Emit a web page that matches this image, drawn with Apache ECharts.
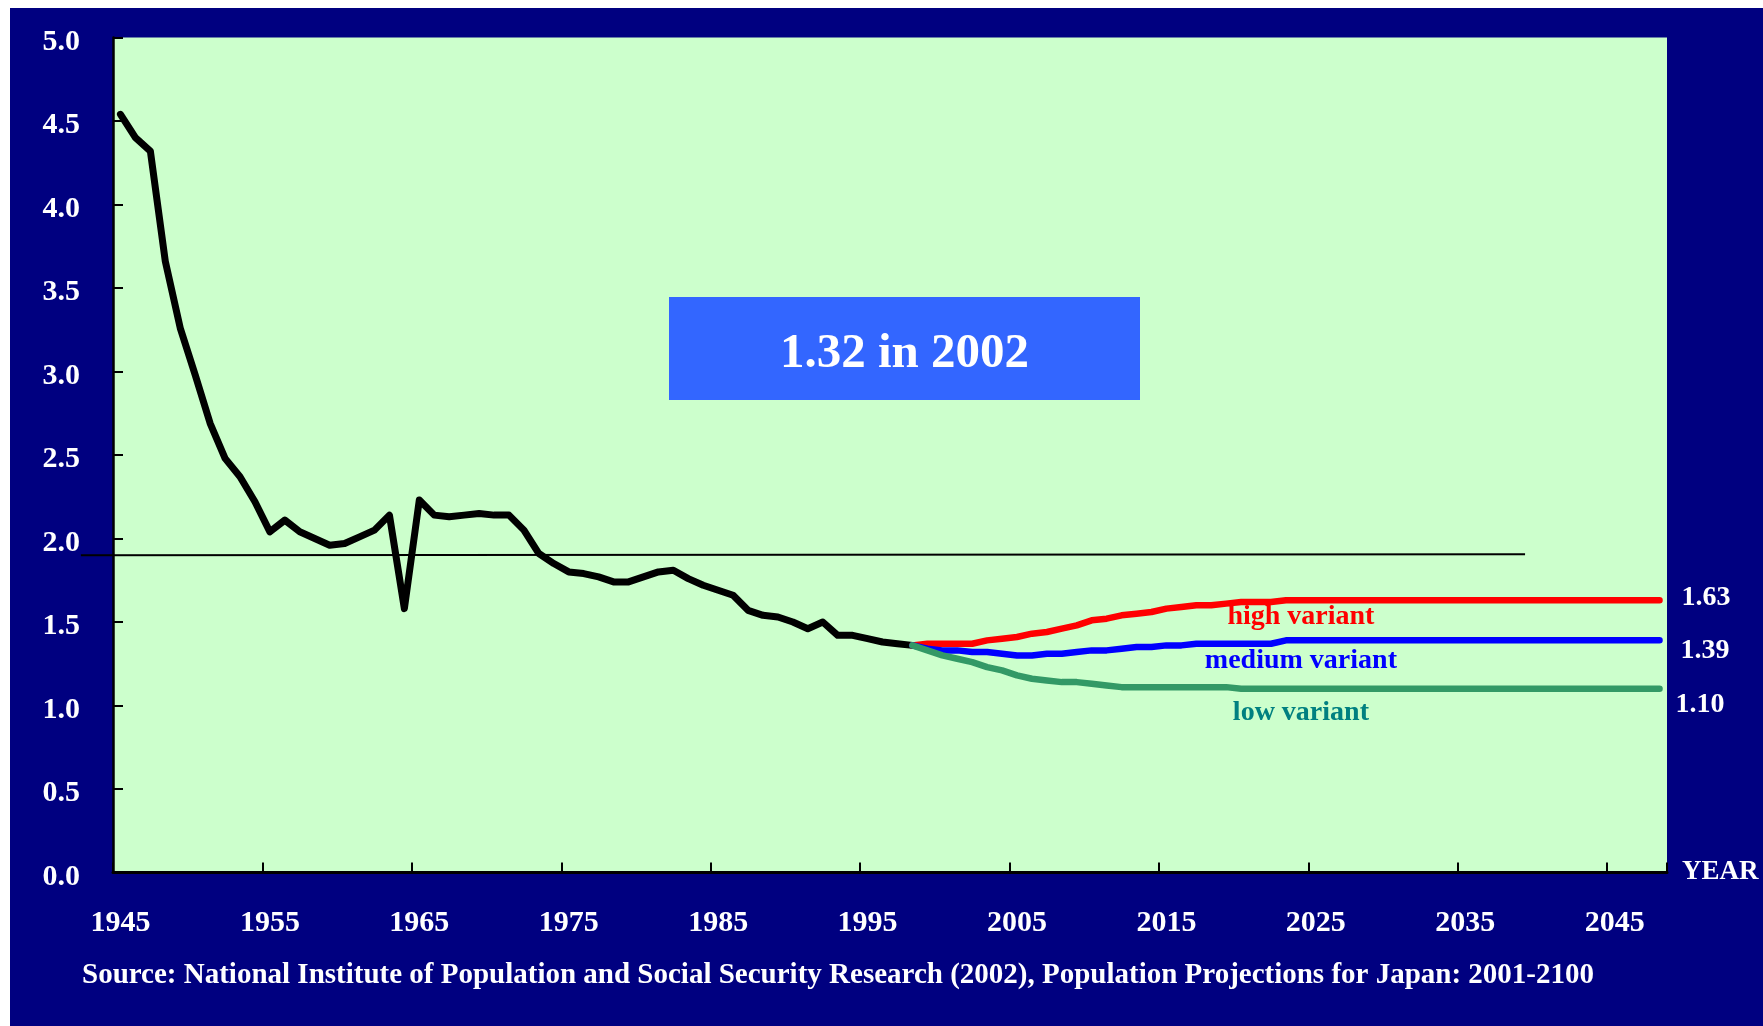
<!DOCTYPE html>
<html>
<head>
<meta charset="utf-8">
<script src="https://cdn.jsdelivr.net/npm/echarts@6/dist/echarts.min.js"></script>
<style>
  html, body { margin: 0; padding: 0; background: #ffffff; }
  #chart { position: absolute; left: 10px; top: 8px; width: 1753px; height: 1018px; }
</style>
</head>
<body>
<div id="chart"></div>
<script>
// Axis categories as labelled in the chart (one per year band)
const categories = Array.from({ length: 104 }, (_, i) => String(1945 + i));
const tickLabels = ['1945', '1955', '1965', '1975', '1985', '1995', '2005', '2015', '2025', '2035', '2045'];

// Total fertility rate, observed (bands 0..53)
const historical = [
  4.54, 4.40, 4.32, 3.66, 3.26, 2.98, 2.69, 2.48, 2.37, 2.22,
  2.04, 2.11, 2.04, 2.00, 1.96, 1.97, 2.01, 2.05, 2.14, 1.58,
  2.23, 2.14, 2.13, 2.14, 2.15, 2.14, 2.14, 2.05, 1.91, 1.85,
  1.80, 1.79, 1.77, 1.74, 1.74, 1.77, 1.80, 1.81, 1.76, 1.72,
  1.69, 1.66, 1.57, 1.54, 1.53, 1.50, 1.46, 1.50, 1.42, 1.42,
  1.40, 1.38, 1.37, 1.36
];
const projectionStart = 53;
// Projections (bands 53..103)
const highVariant = [
  1.36, 1.37, 1.37, 1.37, 1.37, 1.39, 1.40, 1.41, 1.43, 1.44,
  1.46, 1.48, 1.51, 1.52, 1.54, 1.55, 1.56, 1.58, 1.59, 1.60,
  1.60, 1.61, 1.62, 1.62, 1.62, 1.63, 1.63, 1.63, 1.63, 1.63,
  1.63, 1.63, 1.63, 1.63, 1.63, 1.63, 1.63, 1.63, 1.63, 1.63,
  1.63, 1.63, 1.63, 1.63, 1.63, 1.63, 1.63, 1.63, 1.63, 1.63,
  1.63
];
const mediumVariant = [
  1.36, 1.34, 1.33, 1.33, 1.32, 1.32, 1.31, 1.30, 1.30, 1.31,
  1.31, 1.32, 1.33, 1.33, 1.34, 1.35, 1.35, 1.36, 1.36, 1.37,
  1.37, 1.37, 1.37, 1.37, 1.37, 1.39, 1.39, 1.39, 1.39, 1.39,
  1.39, 1.39, 1.39, 1.39, 1.39, 1.39, 1.39, 1.39, 1.39, 1.39,
  1.39, 1.39, 1.39, 1.39, 1.39, 1.39, 1.39, 1.39, 1.39, 1.39,
  1.39
];
const lowVariant = [
  1.36, 1.33, 1.30, 1.28, 1.26, 1.23, 1.21, 1.18, 1.16, 1.15,
  1.14, 1.14, 1.13, 1.12, 1.11, 1.11, 1.11, 1.11, 1.11, 1.11,
  1.11, 1.11, 1.10, 1.10, 1.10, 1.10, 1.10, 1.10, 1.10, 1.10,
  1.10, 1.10, 1.10, 1.10, 1.10, 1.10, 1.10, 1.10, 1.10, 1.10,
  1.10, 1.10, 1.10, 1.10, 1.10, 1.10, 1.10, 1.10, 1.10, 1.10,
  1.10
];
// Reference line (axis years, value)
const refLineYears = [1942.85, 2039.5];
const refLineValues = [1.90, 1.905];

const FONT = "'Liberation Serif', 'Times New Roman', serif";
const pad = arr => new Array(projectionStart).fill(null).concat(arr);
const showTick = (idx, val) => tickLabels.indexOf(val) >= 0;

function projSeries(name, data, color, lbl, lblCoord, lblColor, endOffset) {
  return {
    name, type: 'line', data: pad(data), symbol: 'none', z: 4,
    lineStyle: { color, width: 6.5, cap: 'round', join: 'round' },
    endLabel: {
      show: true, formatter: p => Number(p.value).toFixed(2),
      color: '#ffffff', fontFamily: FONT, fontWeight: 'bold', fontSize: 28,
      distance: 0, offset: endOffset
    },
    markPoint: {
      symbol: 'circle', symbolSize: 1, silent: true,
      itemStyle: { color: 'rgba(0,0,0,0)' },
      label: {
        show: true, position: 'inside', formatter: lbl, color: lblColor,
        fontFamily: FONT, fontWeight: 'bold', fontSize: 28
      },
      data: [{ coord: lblCoord }]
    }
  };
}

const chart = echarts.init(document.getElementById('chart'));
chart.setOption({
  backgroundColor: '#000080',
  animation: false,
  grid: { left: 103, top: 29.5, width: 1554, height: 835, show: true, backgroundColor: '#CCFFCC', borderWidth: 0 },
  xAxis: [{
    type: 'category', data: categories, boundaryGap: true,
    axisLine: { lineStyle: { color: '#000000', width: 3 } },
    axisTick: { show: true, inside: true, length: 10, interval: showTick, lineStyle: { color: '#000000', width: 2 } },
    axisLabel: { interval: showTick, color: '#ffffff', fontFamily: FONT, fontWeight: 'bold', fontSize: 30, margin: 36 },
    splitLine: { show: false },
    name: 'YEAR', nameLocation: 'end', nameGap: 15,
    nameTextStyle: { color: '#ffffff', fontFamily: FONT, fontWeight: 'bold', fontSize: 27, align: 'left', verticalAlign: 'middle' }
  }, {
    type: 'value', min: 1945, max: 2049, show: false
  }],
  yAxis: {
    type: 'value', min: 0, max: 5, interval: 0.5,
    axisLine: { show: true, lineStyle: { color: '#000000', width: 2.5 } },
    axisTick: { show: true, inside: true, length: 10, lineStyle: { color: '#000000', width: 2 } },
    axisLabel: {
      formatter: v => '{v|' + v.toFixed(1) + '}', margin: 33,
      rich: { v: { color: '#ffffff', fontFamily: FONT, fontWeight: 'bold', fontSize: 30, padding: [9, 0, 0, 0] } }
    },
    splitLine: { show: false }
  },
  series: [
    {
      name: 'observed', type: 'line', data: historical, symbol: 'none', z: 3,
      lineStyle: { color: '#000000', width: 7, cap: 'round', join: 'round' }
    },
    projSeries('high variant', highVariant, '#FF0000', 'high variant', ['2024', 1.53], '#FF0000', [22, -3]),
    projSeries('medium variant', mediumVariant, '#0000FF', 'medium variant', ['2024', 1.27], '#0000FF', [21, 10]),
    projSeries('low variant', lowVariant, '#339966', 'low variant', ['2024', 0.955], '#008080', [16, 16])
  ],
  graphic: [
    { type: 'rect', id: 'box', shape: { x: 659, y: 289, width: 471, height: 103 }, style: { fill: '#3366FF' }, z: 10 },
    { type: 'text', id: 'boxText', x: 894.5, y: 346, z: 11,
      style: { text: '1.32 in 2002', fill: '#ffffff', font: "bold 49px 'Liberation Serif', 'Times New Roman', serif",
        textAlign: 'center', textVerticalAlign: 'middle' } },
    { type: 'text', id: 'source', x: 72, y: 968, z: 11,
      style: { text: 'Source: National Institute of Population and Social Security Research (2002), Population Projections for Japan: 2001-2100',
        fill: '#ffffff', font: "bold 29px 'Liberation Serif', 'Times New Roman', serif",
        textAlign: 'left', textVerticalAlign: 'middle' } }
  ]
});

// Thin reference line, placed through the axis scales (extends past the plot on the left)
const p1 = chart.convertToPixel({ xAxisIndex: 1, yAxisIndex: 0 }, [refLineYears[0], refLineValues[0]]);
const p2 = chart.convertToPixel({ xAxisIndex: 1, yAxisIndex: 0 }, [refLineYears[1], refLineValues[1]]);
chart.setOption({
  graphic: [{
    type: 'line', id: 'refLine', z: 1,
    shape: { x1: p1[0], y1: p1[1], x2: p2[0], y2: p2[1] },
    style: { stroke: '#000000', lineWidth: 2 }
  }]
});
</script>
</body>
</html>
